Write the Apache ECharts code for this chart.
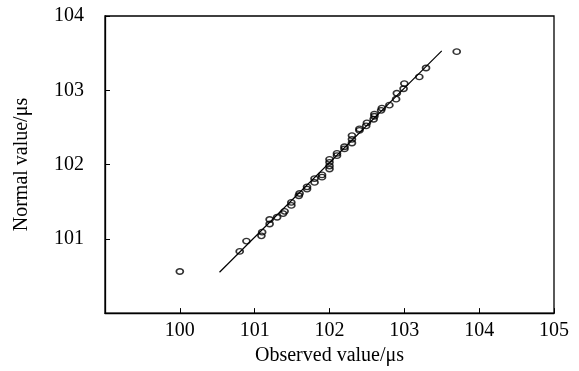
<!DOCTYPE html>
<html>
<head>
<meta charset="utf-8">
<script src="https://cdn.jsdelivr.net/npm/echarts@6/dist/echarts.min.js"></script>
<style>
html,body{margin:0;padding:0;background:#fff;}
#chart{width:579px;height:371px;}
</style>
</head>
<body>
<div id="chart"></div>
<script>
// Observed values (x) and normal quantile values (y)
const observed = [100.00, 100.80, 100.89, 101.09, 101.10, 101.20, 101.20, 101.30, 101.38, 101.40,
  101.49, 101.49, 101.59, 101.60, 101.70, 101.70, 101.80, 101.80, 101.90, 101.90,
  102.00, 102.00, 102.00, 102.00, 102.10, 102.10, 102.20, 102.20, 102.30, 102.30,
  102.30, 102.40, 102.40, 102.49, 102.50, 102.59, 102.60, 102.60, 102.69, 102.70,
  102.80, 102.89, 102.90, 102.99, 103.00, 103.20, 103.29, 103.70];
const normal = [100.56, 100.83, 100.97, 101.04, 101.09, 101.20, 101.26, 101.29, 101.34, 101.37,
  101.45, 101.49, 101.58, 101.61, 101.67, 101.70, 101.76, 101.81, 101.83, 101.86,
  101.94, 101.98, 102.03, 102.07, 102.12, 102.15, 102.21, 102.24, 102.29, 102.34,
  102.39, 102.46, 102.48, 102.52, 102.56, 102.61, 102.65, 102.68, 102.73, 102.76,
  102.80, 102.88, 102.96, 103.02, 103.09, 103.18, 103.30, 103.52];
// Reference line endpoints
const lineX = [100.53, 103.50];
const lineY = [100.55, 103.53];
// Axis ranges
const xRange = [99, 105];
const yRange = [100, 104];

const font = '"Liberation Serif", "Times New Roman", serif';
const chart = echarts.init(document.getElementById('chart'), null, {renderer: 'canvas'});
const axisCommon = {
  interval: 1,
  axisLine: {show: true, onZero: false, lineStyle: {color: '#000', width: 1.3}},
  axisTick: {show: true, inside: true, length: 5, lineStyle: {color: '#000', width: 1}},
  axisLabel: {showMinLabel: false, color: '#000', fontFamily: font, fontSize: 20},
  splitLine: {show: false},
  nameLocation: 'middle',
  nameTextStyle: {color: '#000', fontFamily: font, fontSize: 20}
};
chart.setOption({
  animation: false,
  backgroundColor: '#fff',
  grid: {left: 105, right: 25, top: 16, bottom: 56, show: true, borderColor: '#000', borderWidth: 1.3},
  xAxis: Object.assign({}, axisCommon, {
    type: 'value', min: xRange[0], max: xRange[1], name: 'Observed value/μs', nameGap: 31,
    axisLabel: Object.assign({}, axisCommon.axisLabel, {margin: 8})
  }),
  yAxis: Object.assign({}, axisCommon, {
    type: 'value', min: yRange[0], max: yRange[1], name: 'Normal value/μs', nameGap: 73,
    axisLabel: Object.assign({}, axisCommon.axisLabel, {margin: 21})
  }),
  series: [
    {
      type: 'line',
      data: lineX.map((x, i) => [x, lineY[i]]),
      symbol: 'none',
      lineStyle: {color: '#000', width: 1.2},
      z: 1
    },
    {
      type: 'scatter',
      data: observed.map((x, i) => [x, normal[i]]),
      symbol: 'circle',
      symbolSize: [7, 5.5],
      itemStyle: {color: 'rgba(255,255,255,0)', borderColor: '#000', borderWidth: 1.5},
      z: 2
    }
  ]
});
</script>
</body>
</html>
